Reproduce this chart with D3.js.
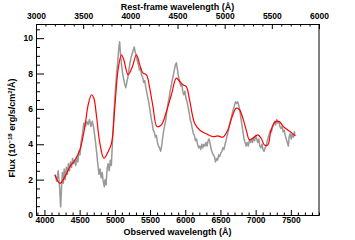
<!DOCTYPE html>
<html>
<head>
<meta charset="utf-8">
<script src="https://cdn.jsdelivr.net/npm/d3@7"></script>
<style>
  body { margin: 0; background: #fff; }
  svg text { font-family: "Liberation Sans", Arial, sans-serif; font-weight: bold; fill: #000; }
  .axis path, .axis line { stroke: #000; stroke-width: 1; }
</style>
</head>
<body>
<svg id="chart" width="355" height="240"></svg>
<script>
// observed spectrum (grey)
const grayWave = [4150,4175,4195,4215,4230,4242,4255,4268,4280,4295,4310,4325,4340,4355,4370,4385,4400,4415,4430,4445,4460,4475,4490,4505,4520,4540,4560,4580,4600,4620,4640,4660,4680,4700,4720,4740,4760,4775,4790,4805,4820,4835,4850,4860,4875,4890,4905,4920,4935,4950,4965,4980,4995,5010,5025,5040,5055,5068,5080,5095,5110,5125,5140,5155,5170,5185,5200,5215,5230,5245,5260,5275,5290,5305,5320,5335,5350,5365,5380,5395,5410,5425,5440,5455,5470,5485,5500,5515,5530,5545,5560,5575,5590,5605,5620,5635,5650,5665,5680,5695,5710,5725,5740,5755,5770,5785,5800,5815,5830,5845,5860,5875,5890,5905,5920,5935,5950,5965,5980,5995,6010,6025,6040,6055,6070,6085,6100,6115,6130,6145,6160,6175,6190,6205,6220,6235,6250,6265,6280,6295,6310,6325,6340,6355,6370,6385,6400,6415,6430,6445,6460,6475,6490,6505,6520,6535,6550,6565,6580,6595,6610,6625,6640,6655,6670,6685,6700,6715,6730,6745,6760,6775,6790,6805,6820,6835,6850,6865,6880,6895,6910,6925,6940,6955,6970,6985,7000,7015,7030,7045,7060,7075,7090,7105,7120,7135,7150,7165,7180,7195,7210,7225,7240,7255,7270,7285,7300,7315,7330,7345,7360,7375,7390,7405,7420,7435,7450,7465,7475,7490,7505,7520,7535,7550,7560];
const grayFlux = [2.3,1.9,2.5,1.6,0.45,1.5,2.4,1.8,2.6,2.0,2.7,2.3,2.9,2.5,3.0,2.7,3.2,2.9,3.1,2.8,3.3,3.0,3.6,3.4,4.1,4.6,5.2,5.0,5.3,5.1,5.4,5.0,5.3,4.9,4.3,3.6,2.8,2.3,2.6,2.1,2.4,1.9,1.6,2.0,1.7,2.6,2.9,2.5,3.1,2.8,4.0,5.2,6.3,7.2,8.0,8.6,9.4,9.8,9.1,8.5,8.0,7.7,7.4,7.2,7.5,7.8,8.2,8.6,8.9,9.1,9.3,9.5,9.2,9.0,8.7,8.5,8.2,8.3,7.9,7.8,7.5,7.6,7.2,6.9,6.6,6.3,5.9,5.5,5.2,4.8,4.7,4.4,4.5,4.1,3.9,3.8,3.6,3.9,4.4,4.8,5.1,5.4,5.9,6.3,6.6,7.0,7.3,7.6,7.9,8.2,8.5,8.6,8.2,7.8,7.6,7.3,7.4,7.0,6.8,7.0,6.6,6.4,6.1,5.8,5.4,5.2,4.9,4.6,4.5,4.2,4.3,4.0,3.8,3.9,3.7,4.0,3.8,4.0,3.9,4.1,3.9,4.2,4.3,4.0,3.7,3.5,3.4,3.3,3.0,3.2,3.1,3.4,3.3,3.5,3.6,3.8,3.7,4.0,4.2,4.5,4.7,5.0,5.3,5.5,5.8,6.0,6.2,6.4,6.3,6.4,6.2,5.9,5.5,5.1,4.7,4.3,4.1,3.9,4.1,3.9,4.2,4.1,4.3,4.1,4.4,4.2,4.5,4.3,4.1,4.3,3.9,3.8,4.0,3.7,3.6,3.8,3.9,4.2,4.4,4.6,4.8,4.7,5.0,5.1,5.3,5.1,5.4,5.2,5.3,5.0,4.9,5.0,4.7,4.8,4.5,4.3,4.1,3.9,4.4,4.6,4.3,4.6,4.4,4.7,4.5];

// smooth model (red)
const redWave = [4149,4220,4291,4362,4433,4503,4574,4621,4669,4702,4740,4787,4844,4905,4953,5000,5046,5094,5127,5188,5250,5307,5354,5400,5449,5495,5542,5599,5661,5732,5803,5874,5921,5967,6015,6062,6133,6204,6299,6392,6463,6534,6605,6667,6724,6771,6818,6866,6912,6959,7030,7078,7125,7172,7220,7281,7337,7394,7455,7517,7564];
const redFlux = [2.26,1.79,2.17,2.74,3.11,3.68,5.0,6.23,6.8,6.6,5.57,4.06,3.21,3.58,4.06,6.13,8.21,9.06,8.78,7.93,8.4,9.06,8.49,8.02,7.93,7.17,6.13,5.0,5.1,5.85,6.8,7.74,7.55,7.36,7.26,6.5,5.19,4.81,4.59,4.43,4.47,4.4,4.81,5.57,6.04,5.95,5.48,4.81,4.25,4.34,4.53,4.34,3.96,3.96,4.81,5.28,5.28,5.0,4.81,4.63,4.47];

const obsTicks = [4000,4500,5000,5500,6000,6500,7000,7500];
const restTicks = [3000,3500,4000,4500,5000,5500,6000];
const fluxTicks = [0,2,4,6,8,10];

const svg = d3.select("#chart");
const margin = { top: 24, right: 36, bottom: 25, left: 36 };
const W = 355 - margin.left - margin.right;
const H = 240 - margin.top - margin.bottom;

const g = svg.append("g").attr("transform", `translate(${margin.left},${margin.top})`);

const x = d3.scaleLinear().domain([3880, 7900]).range([0, W]);
const xRest = d3.scaleLinear().domain([3000, 6000]).range([0, W]);
const y = d3.scaleLinear().domain([0, 10.8]).range([H, 0]);

// minor ticks
const minorObs = d3.range(3900, 7901, 100).filter(v => v % 500);
const minorRest = d3.range(3000, 6001, 100).filter(v => v % 500);
const minorFlux = d3.range(0, 10.81, 0.5).filter(v => v % 2);

function noLabels(a) { return a.tickFormat(""); }

g.append("g").attr("class", "axis").attr("transform", `translate(0,${H})`)
  .call(noLabels(d3.axisBottom(x).tickValues(minorObs).tickSize(-2.5).tickSizeOuter(0)));
g.append("g").attr("class", "axis").attr("transform", `translate(0,${H})`)
  .call(d3.axisBottom(x).tickValues(obsTicks).tickSize(-5).tickSizeOuter(0).tickPadding(2).tickFormat(d3.format("d")))
  .selectAll("text").attr("font-size", 8.5);

g.append("g").attr("class", "axis")
  .call(noLabels(d3.axisTop(xRest).tickValues(minorRest).tickSize(-2.5).tickSizeOuter(0)));
g.append("g").attr("class", "axis")
  .call(d3.axisTop(xRest).tickValues(restTicks).tickSize(-5).tickSizeOuter(0).tickPadding(5).tickFormat(d3.format("d")))
  .selectAll("text").attr("font-size", 8.5);

g.append("g").attr("class", "axis")
  .call(noLabels(d3.axisLeft(y).tickValues(minorFlux).tickSize(-4).tickSizeOuter(0)));
g.append("g").attr("class", "axis")
  .call(d3.axisLeft(y).tickValues(fluxTicks).tickSize(-8).tickSizeOuter(0).tickPadding(3))
  .selectAll("text").attr("font-size", 8.5);

g.append("line").attr("x1", W).attr("x2", W).attr("y1", 0).attr("y2", H)
  .attr("stroke", "#000");

// spectra
const grayData = grayWave.map((w, i) => [w, grayFlux[i]]);
const redData = redWave.map((w, i) => [w, redFlux[i]]);

g.append("path").datum(grayData)
  .attr("fill", "none").attr("stroke", "#999").attr("stroke-width", 1.5)
  .attr("stroke-linejoin", "round")
  .attr("d", d3.line().x(d => x(d[0])).y(d => y(d[1])));

g.append("path").datum(redData)
  .attr("fill", "none").attr("stroke", "#ff0000").attr("stroke-width", 1.2)
  .attr("d", d3.line().curve(d3.curveCatmullRom).x(d => x(d[0])).y(d => y(d[1])));

// titles
svg.append("text").attr("x", margin.left + W / 2).attr("y", 10)
  .attr("text-anchor", "middle").attr("font-size", 9).text("Rest-frame wavelength (Å)");
svg.append("text").attr("x", margin.left + W / 2).attr("y", 235)
  .attr("text-anchor", "middle").attr("font-size", 9).text("Observed wavelength (Å)");

const yl = svg.append("text")
  .attr("transform", "translate(15,128) rotate(-90)")
  .attr("text-anchor", "middle").attr("font-size", 9);
yl.append("tspan").text("Flux (10");
yl.append("tspan").attr("font-size", 6).attr("dy", -3.5).text("−18");
yl.append("tspan").attr("dy", 3.5).text(" erg/s/cm");
yl.append("tspan").attr("font-size", 6).attr("dy", -3.5).text("2");
yl.append("tspan").attr("dy", 3.5).text("/Å)");
</script>
</body>
</html>
